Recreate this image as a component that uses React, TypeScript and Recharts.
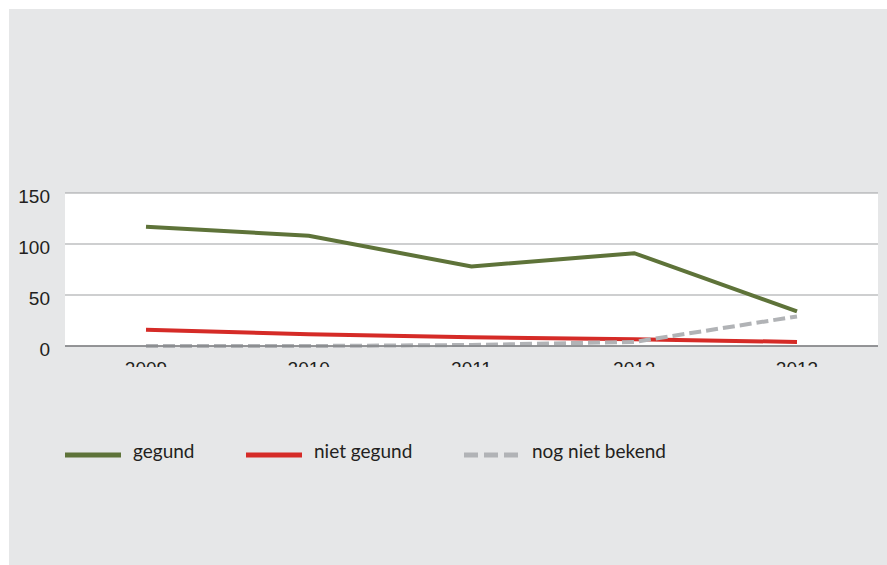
import { CartesianGrid, Line, LineChart, XAxis, YAxis } from "recharts";

const years = ["2009", "2010", "2011", "2012", "2013"];
const gegund = [117, 108, 78, 91, 34];
const nietGegund = [16, 11.5, 8.5, 6.5, 4];
const nogNietBekend = [0, 0, 1, 4, 29];
const yTicks = [0, 50, 100, 150];

const data = years.map((year, i) => ({
  year,
  gegund: gegund[i],
  nietGegund: nietGegund[i],
  nogNietBekend: nogNietBekend[i],
}));

const GREEN = "#5e7339";
const RED = "#d52b27";
const GREY = "#b1b3b6";
const TEXT = "#231f20";
const AXIS_FONT = "'Liberation Sans', Arial, sans-serif";

function ClippedTick({ x, y, payload, index }: any) {
  const id = `xclip-${index}`;
  return (
    <g>
      <defs>
        <clipPath id={id}>
          <rect x={x - 40} y={y} width={80} height={21} />
        </clipPath>
      </defs>
      <text
        x={x}
        y={y + 29}
        textAnchor="middle"
        fill={TEXT}
        fontSize={19}
        fontFamily={AXIS_FONT}
        clipPath={`url(#${id})`}
      >
        {payload.value}
      </text>
    </g>
  );
}

const legendItems = [
  { label: "gegund", color: GREEN, dashed: false, left: 65, textLeft: 133 },
  { label: "niet gegund", color: RED, dashed: false, left: 246, textLeft: 314 },
  { label: "nog niet bekend", color: GREY, dashed: true, left: 464, textLeft: 532 },
];

export default function App() {
  return (
    <div
      style={{
        position: "absolute",
        left: 0,
        top: 0,
        width: 887,
        height: 565,
        background: "#fff",
        overflow: "hidden",
      }}
    >
      <div
        style={{
          position: "absolute",
          left: 9,
          top: 9,
          width: 878,
          height: 556,
          background: "#e6e7e8",
        }}
      >
        <LineChart
          width={878}
          height={400}
          data={data}
          margin={{ top: 184, right: 9, left: 0, bottom: 33 }}
        >
          <CartesianGrid
            vertical={false}
            stroke="#9d9fa2"
            strokeWidth={1.2}
            fill="#ffffff"
          />
          <XAxis
            dataKey="year"
            height={30}
            padding={{ left: 81, right: 81 }}
            axisLine={{ stroke: "#808285", strokeWidth: 1.5 }}
            tickLine={false}
            tickSize={0}
            tickMargin={0}
            tick={<ClippedTick />}
          />
          <YAxis
            width={56}
            domain={[0, 150]}
            ticks={yTicks}
            axisLine={false}
            tickLine={false}
            tickSize={0}
            tickMargin={15}
            tick={{ fill: TEXT, fontSize: 19, fontFamily: AXIS_FONT, dy: 3 }}
          />
          <Line
            dataKey="nietGegund"
            stroke={RED}
            strokeWidth={4}
            dot={false}
            isAnimationActive={false}
          />
          <Line
            dataKey="nogNietBekend"
            stroke={GREY}
            strokeWidth={4}
            strokeDasharray="12 5"
            dot={false}
            isAnimationActive={false}
          />
          <Line
            dataKey="gegund"
            stroke={GREEN}
            strokeWidth={4}
            dot={false}
            isAnimationActive={false}
          />
        </LineChart>

        {legendItems.map((item) => (
          <div key={item.label}>
            <svg
              style={{ position: "absolute", left: item.left - 9, top: 443 }}
              width={56}
              height={6}
            >
              <line
                x1={0}
                x2={56}
                y1={3}
                y2={3}
                stroke={item.color}
                strokeWidth={5}
                strokeDasharray={item.dashed ? "14 6" : undefined}
              />
            </svg>
            <div
              style={{
                position: "absolute",
                left: item.textLeft - 9,
                top: 430,
                fontFamily: "Lato, sans-serif",
                fontSize: 19,
                lineHeight: "24px",
                color: TEXT,
                whiteSpace: "nowrap",
              }}
            >
              {item.label}
            </div>
          </div>
        ))}
      </div>
    </div>
  );
}
